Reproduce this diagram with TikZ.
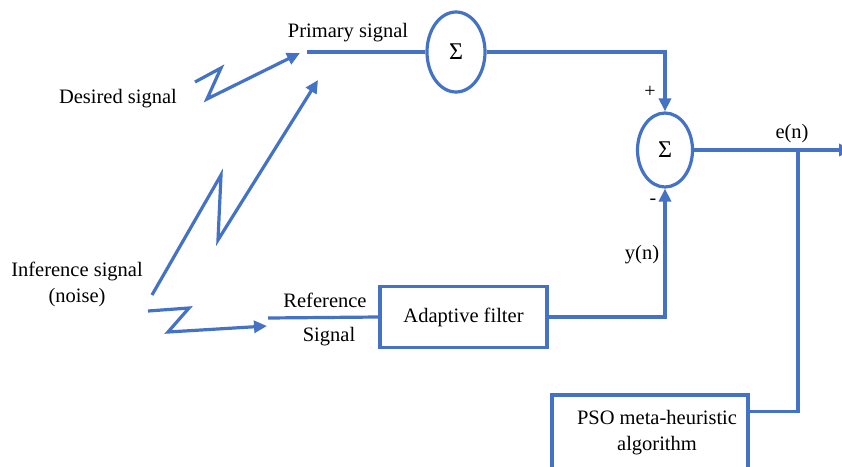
\documentclass[tikz,border=0pt]{standalone}
\usepackage{fontspec}
\setmainfont{Liberation Serif}
\newfontfamily\tnr{Liberation Serif}
\usetikzlibrary{arrows.meta,shapes.geometric,backgrounds}
\definecolor{lineblue}{RGB}{68,114,196}
\tikzset{
  wire/.style={draw=lineblue,line width=3.2pt,line join=miter},
  arr/.style={wire,-{Triangle[length=13pt,width=12pt]}},
  sumnode/.style={ellipse,draw=lineblue,line width=3.2pt,inner sep=0pt,fill=white},
  blk/.style={rectangle,draw=lineblue,line width=3.2pt,fill=white,inner sep=0pt},
  lbl/.style={font=\tnr\fontsize{20.5}{24}\selectfont,inner sep=0pt,align=center},
  sgn/.style={font=\tnr\fontsize{20}{22}\selectfont,inner sep=0pt}
}
\begin{document}
\begin{tikzpicture}[x=1pt,y=-1pt]
\clip (0,0) rectangle (842,466);
\fill[white] (0,0) rectangle (842,466);
% nodes
\node[sumnode,minimum width=58pt,minimum height=80pt] (s1) at (456,52) {\tnr\fontsize{24}{26}\selectfont Σ};
\node[sumnode,minimum width=55pt,minimum height=74pt] (s2) at (665,150) {\tnr\fontsize{24}{26}\selectfont Σ};
\node[blk,minimum width=167pt,minimum height=61pt] (af) at (463.5,317) {};
\node[lbl] (aftext) at (463.5,317) {Adaptive filter};
\node[blk,minimum width=196pt,minimum height=90pt] (pso) at (650,440) {};
\node[lbl] (psotext) at (657,433) {PSO meta-heuristic\\[2pt]algorithm};
% labels
\node[lbl] (ptext) at (348,33) {Primary signal};
\node[lbl] (dtext) at (118,99) {Desired signal};
\node[lbl] (itext) at (77,284) {Inference signal\\[2pt](noise)};
\node[lbl] (rtext) at (325,300) {Reference};
\node[lbl] (stext) at (329,337) {Signal};
\node[sgn] (plus) at (650,92) {+};
\node[sgn] (minus) at (653,202) {-};
\node[lbl] (etext) at (792,134) {e(n)};
\node[lbl] (ytext) at (642,255) {y(n)};
% coordinates
\coordinate (pstart) at (307,52);
\coordinate (rstart) at (268,318);
\coordinate (tap) at (798,150);
\coordinate (out) at (852,150);
\coordinate (d0) at (195,82);
\coordinate (d1) at (221,68);
\coordinate (d2) at (207,99);
\coordinate (dtip) at (300,53);
\coordinate (n0) at (152,295);
\coordinate (n1) at (221,175);
\coordinate (n2) at (218,240);
\coordinate (ntip) at (318,80);
\coordinate (r0) at (148,311);
\coordinate (r1) at (189,308);
\coordinate (r2) at (168,332);
\coordinate (rtip) at (267,326);
\coordinate (fb) at (433,418);
\coordinate (fbtip) at (496,217);
% connectors
\draw[wire] (pstart) -- (s1.west);
\draw[arr] (s1.east) -| (s2.north);
\draw[arr] (s2.east) -- (out);
\draw[wire] (tap) |- ([yshift=-18pt]pso.north east);
\draw[arr] (af.east) -| (s2.south);
\draw[wire] (rstart) -- (af.west);
\draw[arr] (d0) -- (d1) -- (d2) -- (dtip);
\draw[arr] (n0) -- (n1) -- (n2) -- (ntip);
\draw[arr] (r0) -- (r1) -- (r2) -- (rtip);
\begin{scope}[on background layer]
\draw[arr] ([yshift=-23pt]pso.north west) -- (fb) -- (fbtip);
\end{scope}
\end{tikzpicture}
\end{document}
